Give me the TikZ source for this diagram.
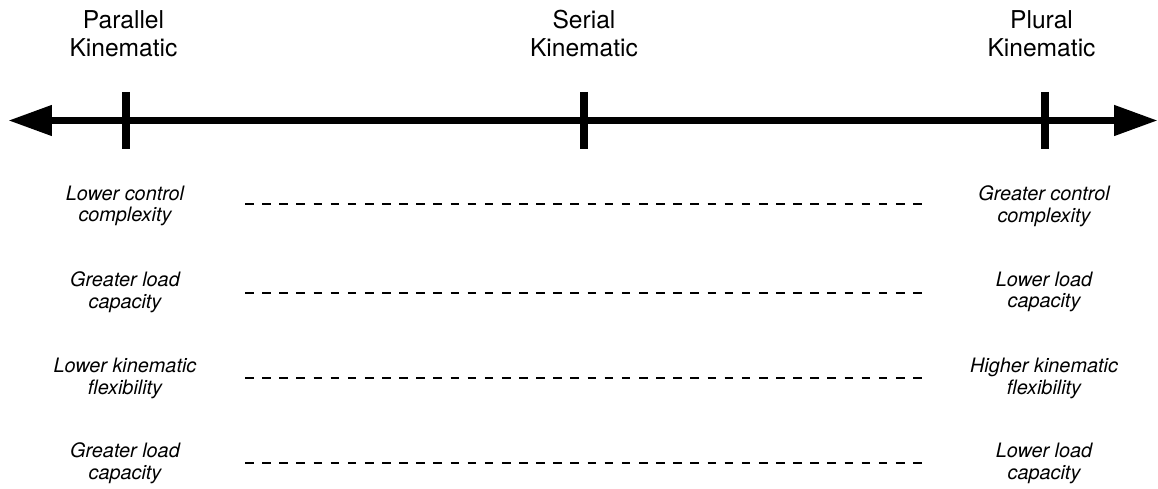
\documentclass[tikz,border=0pt]{standalone}
\usepackage{fontspec}
\setmainfont{TeX Gyre Heros}
\usepackage{tikz}
\usetikzlibrary{arrows.meta}

\tikzset{
  axis/.style={line width=4.5pt, {Triangle[length=25pt,width=16.4pt]}-{Triangle[length=25pt,width=16.4pt]}},
  tickmark/.style={line width=4.8pt},
  kintitle/.style={align=center, inner sep=0pt, font=\fontsize{14}{16.2}\selectfont},
  kinlabel/.style={align=center, inner sep=0pt, font=\fontsize{11.3}{12.3}\selectfont\itshape},
  dashline/.style={line width=1.7pt, dash pattern=on 4.9pt off 4.85pt}
}

\begin{document}
\begin{tikzpicture}[x=0.02cm,y=-0.02cm]

% Fix the page size
\useasboundingbox (0,0) rectangle (1158,489);

% Define coordinates for the axis
\coordinate (axL) at (8,120.5);
\coordinate (axR) at (1158,120.5);
\coordinate (par) at (126,120.5);
\coordinate (ser) at (584,120.5);
\coordinate (plu) at (1045,120.5);

% Draw the axis with arrows
\draw[axis] (axL) -- (axR);

% Draw the tick marks
\foreach \t in {par,ser,plu}
  \draw[tickmark] (\t) ++(0,-28.5) -- ++(0,57);

% Add titles above the ticks
\node[kintitle] (parT) at (123.5,33.5) {Parallel\\Kinematic};
\node[kintitle] (serT) at (584,33.5) {Serial\\Kinematic};
\node[kintitle] (pluT) at (1041.5,33.5) {Plural\\Kinematic};

% Add the properties and dashed lines
\foreach \i/\ly/\dy/\lt/\rt in {
    1/206/204/{Lower control\\complexity}/{Greater control\\complexity},
    2/292/293/{Greater load\\capacity}/{Lower load\\capacity},
    3/378.5/378/{Lower kinematic\\flexibility}/{Higher kinematic\\flexibility},
    4/463.5/463/{Greater load\\capacity}/{Lower load\\capacity}} {
  \node[kinlabel] (left\i) at (125,\ly) {\lt};
  \node[kinlabel] (right\i) at (1044,\ly) {\rt};
  \coordinate (ds\i) at (245,\dy);
  \coordinate (de\i) at (925,\dy);
  \draw[dashline] (ds\i) -- (de\i);
}
\end{tikzpicture}
\end{document}
